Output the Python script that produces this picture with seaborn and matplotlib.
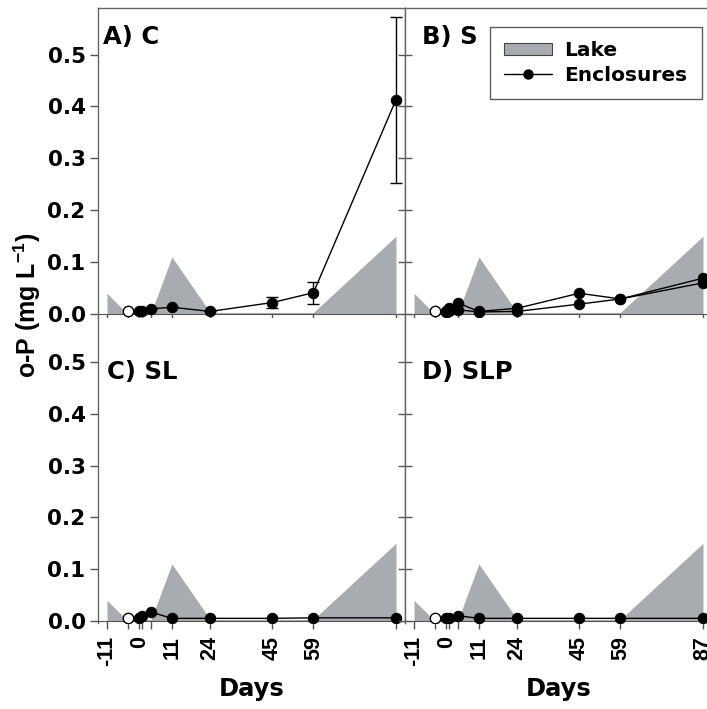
import matplotlib
matplotlib.use("Agg")
import matplotlib.pyplot as plt
import seaborn as sns
import pandas as pd
from matplotlib.patches import Patch
from matplotlib.lines import Line2D

# ---- data ----
days = [0, 1, 4, 11, 24, 45, 59, 87]
pre_day = -4
lake_days = [-11, -4, 4, 11, 24, 45, 59, 87]
lake_op = [0.04, 0.0, 0.003, 0.11, 0.003, 0.003, 0.003, 0.15]

c_encl = [0.005, 0.006, 0.010, 0.013, 0.005, 0.022, 0.041, 0.413]
c_err = [0, 0, 0, 0, 0, 0.011, 0.021, 0.16]
s_encl1 = [0.005, 0.011, 0.021, 0.005, 0.011, 0.040, 0.029, 0.069]
s_encl2 = [0.003, 0.005, 0.008, 0.004, 0.005, 0.019, 0.029, 0.060]
sl_encl = [0.005, 0.009, 0.017, 0.005, 0.005, 0.005, 0.006, 0.006]
slp_encl = [0.005, 0.005, 0.010, 0.005, 0.005, 0.005, 0.005, 0.005]
pre_val = 0.005

label_ticks = [-11, 0, 11, 24, 45, 59, 87]
minor_ticks = [-4, 1, 4]
yticks = [0.0, 0.1, 0.2, 0.3, 0.4, 0.5]
panel_titles = ["A) C", "B) S", "C) SL", "D) SLP"]

sns.set_style("ticks")
plt.rcParams["font.family"] = ["DejaVu Sans"]
plt.rcParams["font.weight"] = "bold"
plt.rcParams["text.color"] = "black"
plt.rcParams["axes.labelcolor"] = "black"
plt.rcParams["xtick.labelcolor"] = "black"
plt.rcParams["ytick.labelcolor"] = "black"
plt.rcParams["mathtext.fontset"] = "custom"
plt.rcParams["mathtext.rm"] = "Liberation Sans:bold"
plt.rcParams["mathtext.bf"] = "Liberation Sans:bold"
plt.rcParams["mathtext.default"] = "bf"

W, H = 707, 709
fig = plt.figure(figsize=(W / 100, H / 100), dpi=100)

def fx(px):
    return px / W

def fy(py):
    return 1 - py / H

boxes = {
    0: (98, 405, 8, 318),
    1: (405, 712, 8, 318),
    2: (98, 405, 318, 623),
    3: (405, 712, 318, 623),
}
ylims = {0: (-0.0077, 0.5896), 1: (-0.0077, 0.5896),
         2: (-0.004, 0.585), 3: (-0.004, 0.585)}

lake_color = "#a8abb0"
series = {0: [c_encl], 1: [s_encl1, s_encl2], 2: [sl_encl], 3: [slp_encl]}

axes = []
for i in range(4):
    x0, x1, y0, y1 = boxes[i]
    ax = fig.add_axes([fx(x0), fy(y1), fx(x1 - x0), fy(y0) - fy(y1)])
    axes.append(ax)
    ax.set_xlim(-14.05, 90.05)
    ax.set_ylim(*ylims[i])

    ax.fill_between(lake_days, 0, lake_op, color=lake_color, linewidth=0, zorder=1)

    for k, vals in enumerate(series[i]):
        df = pd.DataFrame({"day": days, "val": vals})
        sns.lineplot(data=df, x="day", y="val", ax=ax, color="black", lw=1.0,
                     marker="o", markersize=7.5, markeredgecolor="black",
                     markerfacecolor="black", zorder=3, legend=False)
    if i == 0:
        ax.errorbar(days, c_encl, yerr=c_err, fmt="none", ecolor="black",
                    elinewidth=1.0, capsize=4, capthick=1.0, zorder=2)
    ax.plot([pre_day], [pre_val], "o", markersize=7.5, markerfacecolor="white",
            markeredgecolor="black", markeredgewidth=1.0, zorder=4)

    ax.set_xlabel("")
    ax.set_ylabel("")
    ax.spines["bottom"].set_position(("data", 0))
    ax.spines["bottom"].set_color("#555555")
    for s in ["left", "right", "top"]:
        ax.spines[s].set_color("#666666")
        ax.spines[s].set_linewidth(1.0)
    if i >= 2:
        ax.spines["top"].set_visible(False)

    ax.set_xticks(label_ticks)
    ax.set_xticks(minor_ticks, minor=True)
    ax.tick_params(axis="x", which="both", direction="out", length=6, width=1,
                   color="#555555")
    ax.set_yticks(yticks)
    if i in (0, 2):
        ax.tick_params(axis="y", direction="out", length=6, width=1, color="#555555",
                       labelsize=15.5, pad=3)
        ax.set_yticklabels([f"{v:.1f}" for v in yticks], fontweight="bold")
    else:
        ax.tick_params(axis="y", direction="inout", length=10, width=1, color="#555555",
                       labelleft=False)
    if i < 2:
        ax.tick_params(axis="x", labelbottom=False)
    else:
        labs = [str(t) for t in label_ticks]
        if i == 2:
            labs[-1] = ""
        ax.set_xticklabels(labs, rotation=90, fontweight="bold", fontsize=15.5,
                           fontfamily="Liberation Sans")
        ax.tick_params(axis="x", pad=5)
        ax.set_xlabel("Days", fontsize=17.5, fontweight="bold", labelpad=8)

    tx = {0: 0.016, 1: 0.055, 2: 0.029, 3: 0.055}[i]
    ty = 0.906 if i < 2 else 0.823
    ax.text(tx, ty, panel_titles[i], transform=ax.transAxes, fontsize=17.5,
            fontweight="bold", ha="left", va="center")

handles = [Patch(facecolor=lake_color, edgecolor="#444444", linewidth=0.8, label="Lake"),
           Line2D([0], [0], color="black", lw=1.0, marker="o", markersize=6.5,
                  markerfacecolor="black", label="Enclosures")]
leg = axes[1].legend(handles=handles, loc="upper left", bbox_to_anchor=(0.277, 0.939),
                     frameon=True, fancybox=False, edgecolor="#333333",
                     prop={"weight": "bold", "size": 14.5}, handlelength=2.4,
                     handleheight=0.6, borderpad=0.7, labelspacing=0.3,
                     handletextpad=0.6, borderaxespad=0)
leg.get_frame().set_linewidth(1.0)

fig.text(fx(27), fy(305), "o-P (mg L$^{-1}$)", rotation=90, ha="center",
         va="center", fontsize=18, fontweight="bold", fontfamily="Liberation Sans")

fig.savefig("out.png", dpi=100)
